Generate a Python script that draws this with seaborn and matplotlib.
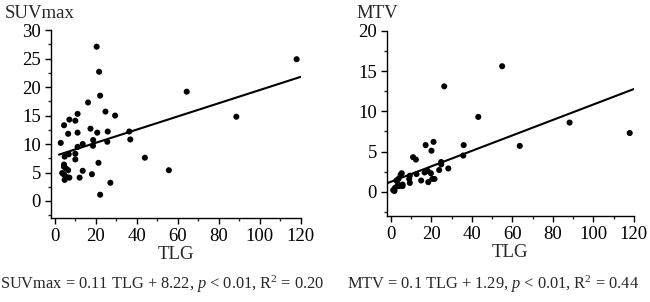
import matplotlib
matplotlib.use("Agg")
import matplotlib.pyplot as plt
import numpy as np
import pandas as pd
import seaborn as sns
from matplotlib.ticker import MultipleLocator

# ---- data ----
tlg_suv = [2.9, 4.5, 7.1, 6.5, 10, 11.1, 11.1, 16.2, 20.4, 21.6, 22.1, 24.7, 29.4,
           17.4, 20.7, 25.8, 18.7, 18.6, 13.6, 11.1, 25.6, 36.3, 36.8, 43.9, 55.6,
           64.3, 88.5, 117.9, 4.8, 6.8, 10, 10, 21.3, 4.5, 4.5, 5.5, 6.5, 3.6, 4.5,
           5.8, 7.1, 4.8, 13.6, 12.1, 18.1, 27.1, 22.1]
suvmax = [10.2, 13.3, 14.3, 11.8, 14.1, 15.3, 12.0, 17.3, 27.1, 22.7, 18.5, 15.7, 15.0,
          12.7, 12.0, 12.2, 10.7, 9.7, 10.0, 9.5, 10.4, 12.2, 10.8, 7.6, 5.4,
          19.2, 14.8, 24.9, 7.8, 8.2, 8.3, 7.3, 6.7, 6.4, 6.0, 5.7, 5.4, 4.9, 4.6,
          4.2, 4.1, 3.7, 5.3, 4.1, 4.7, 3.2, 1.1]

tlg_mtv = [55, 26.4, 43.2, 88.3, 118, 63.7, 36, 35.8, 17.2, 21.1, 20.1, 11, 12.4,
           24.9, 24.9, 23.9, 28.4, 16.7, 18.2, 19.8, 12.7, 15, 18.5, 20.5, 21.6,
           9.4, 9.1, 9.4, 5.4, 4.8, 3.8, 2.8, 3.5, 5.8, 5.8, 2.1, 1.2, 4.1, 1.8]
mtv = [15.6, 13.1, 9.3, 8.6, 7.3, 5.7, 5.8, 4.5, 5.8, 6.2, 5.1, 4.3, 4.0,
       3.7, 3.4, 2.7, 2.9, 2.4, 2.6, 2.3, 2.2, 1.4, 1.2, 1.6, 1.6,
       2.0, 1.6, 1.1, 2.3, 2.1, 1.6, 1.4, 0.9, 0.9, 0.7, 0.5, 0.2, 0.7, 0.1]

# fitted lines (as drawn in the figure)
fit_slope = [0.116, 0.096]
fit_intercept = [7.9, 1.24]
fit_start = [2, -2.5]

y_labels = ["SUVmax", "MTV"]
y_limits = [(-3, 30), (-3, 20)]
equations = ["SUVmax = 0.11 TLG + 8.22, $p$ < 0.01, R$^2$ = 0.20",
             "MTV = 0.1 TLG + 1.29, $p$ < 0.01, R$^2$ = 0.44"]

sns.set_style("ticks")
plt.rcParams["font.family"] = ["Liberation Serif", "DejaVu Serif"]
plt.rcParams["mathtext.fontset"] = "custom"
plt.rcParams["mathtext.rm"] = "Liberation Serif"
plt.rcParams["mathtext.it"] = "Liberation Serif:italic"

fig = plt.figure(figsize=(6.5, 3.02), dpi=100)
ax_boxes = [[0.078, 0.278, 0.385, 0.622], [0.595, 0.285, 0.380, 0.613]]
label_x = [0.008, 0.548]
eq_x = [0.0, 0.534]

for i, (xs, ys) in enumerate([(tlg_suv, suvmax), (tlg_mtv, mtv)]):
    ax = fig.add_axes(ax_boxes[i])
    df = pd.DataFrame({"TLG": xs, "y": ys})
    sns.scatterplot(data=df, x="TLG", y="y", ax=ax, color="black", s=19,
                    edgecolor="none", linewidth=0)

    xline = np.array([fit_start[i], 120])
    fit = pd.DataFrame({"x": xline, "y": fit_slope[i] * xline + fit_intercept[i]})
    sns.lineplot(data=fit, x="x", y="y", ax=ax, color="black", linewidth=1.5)

    ax.set_xlim(-2, 120)
    ax.set_ylim(*y_limits[i])
    ax.xaxis.set_major_locator(MultipleLocator(20))
    ax.xaxis.set_minor_locator(MultipleLocator(10))
    ax.yaxis.set_major_locator(MultipleLocator(5))
    ax.yaxis.set_minor_locator(MultipleLocator(2.5))
    ax.tick_params(which="major", length=4, width=1, labelsize=13.5,
                   colors="black", pad=3)
    ax.tick_params(which="minor", length=2, width=1)
    sns.despine(ax=ax)
    for sp in ["left", "bottom"]:
        ax.spines[sp].set_linewidth(1)
        ax.spines[sp].set_color("black")

    ax.set_xlabel("TLG", fontsize=13.5, labelpad=1)
    ax.set_ylabel("")
    fig.text(label_x[i], 0.955, y_labels[i], fontsize=13.5, va="center", ha="left")
    fig.text(eq_x[i], 0.058, equations[i], fontsize=11.8, va="center", ha="left")

fig.savefig("out.png", dpi=100)
